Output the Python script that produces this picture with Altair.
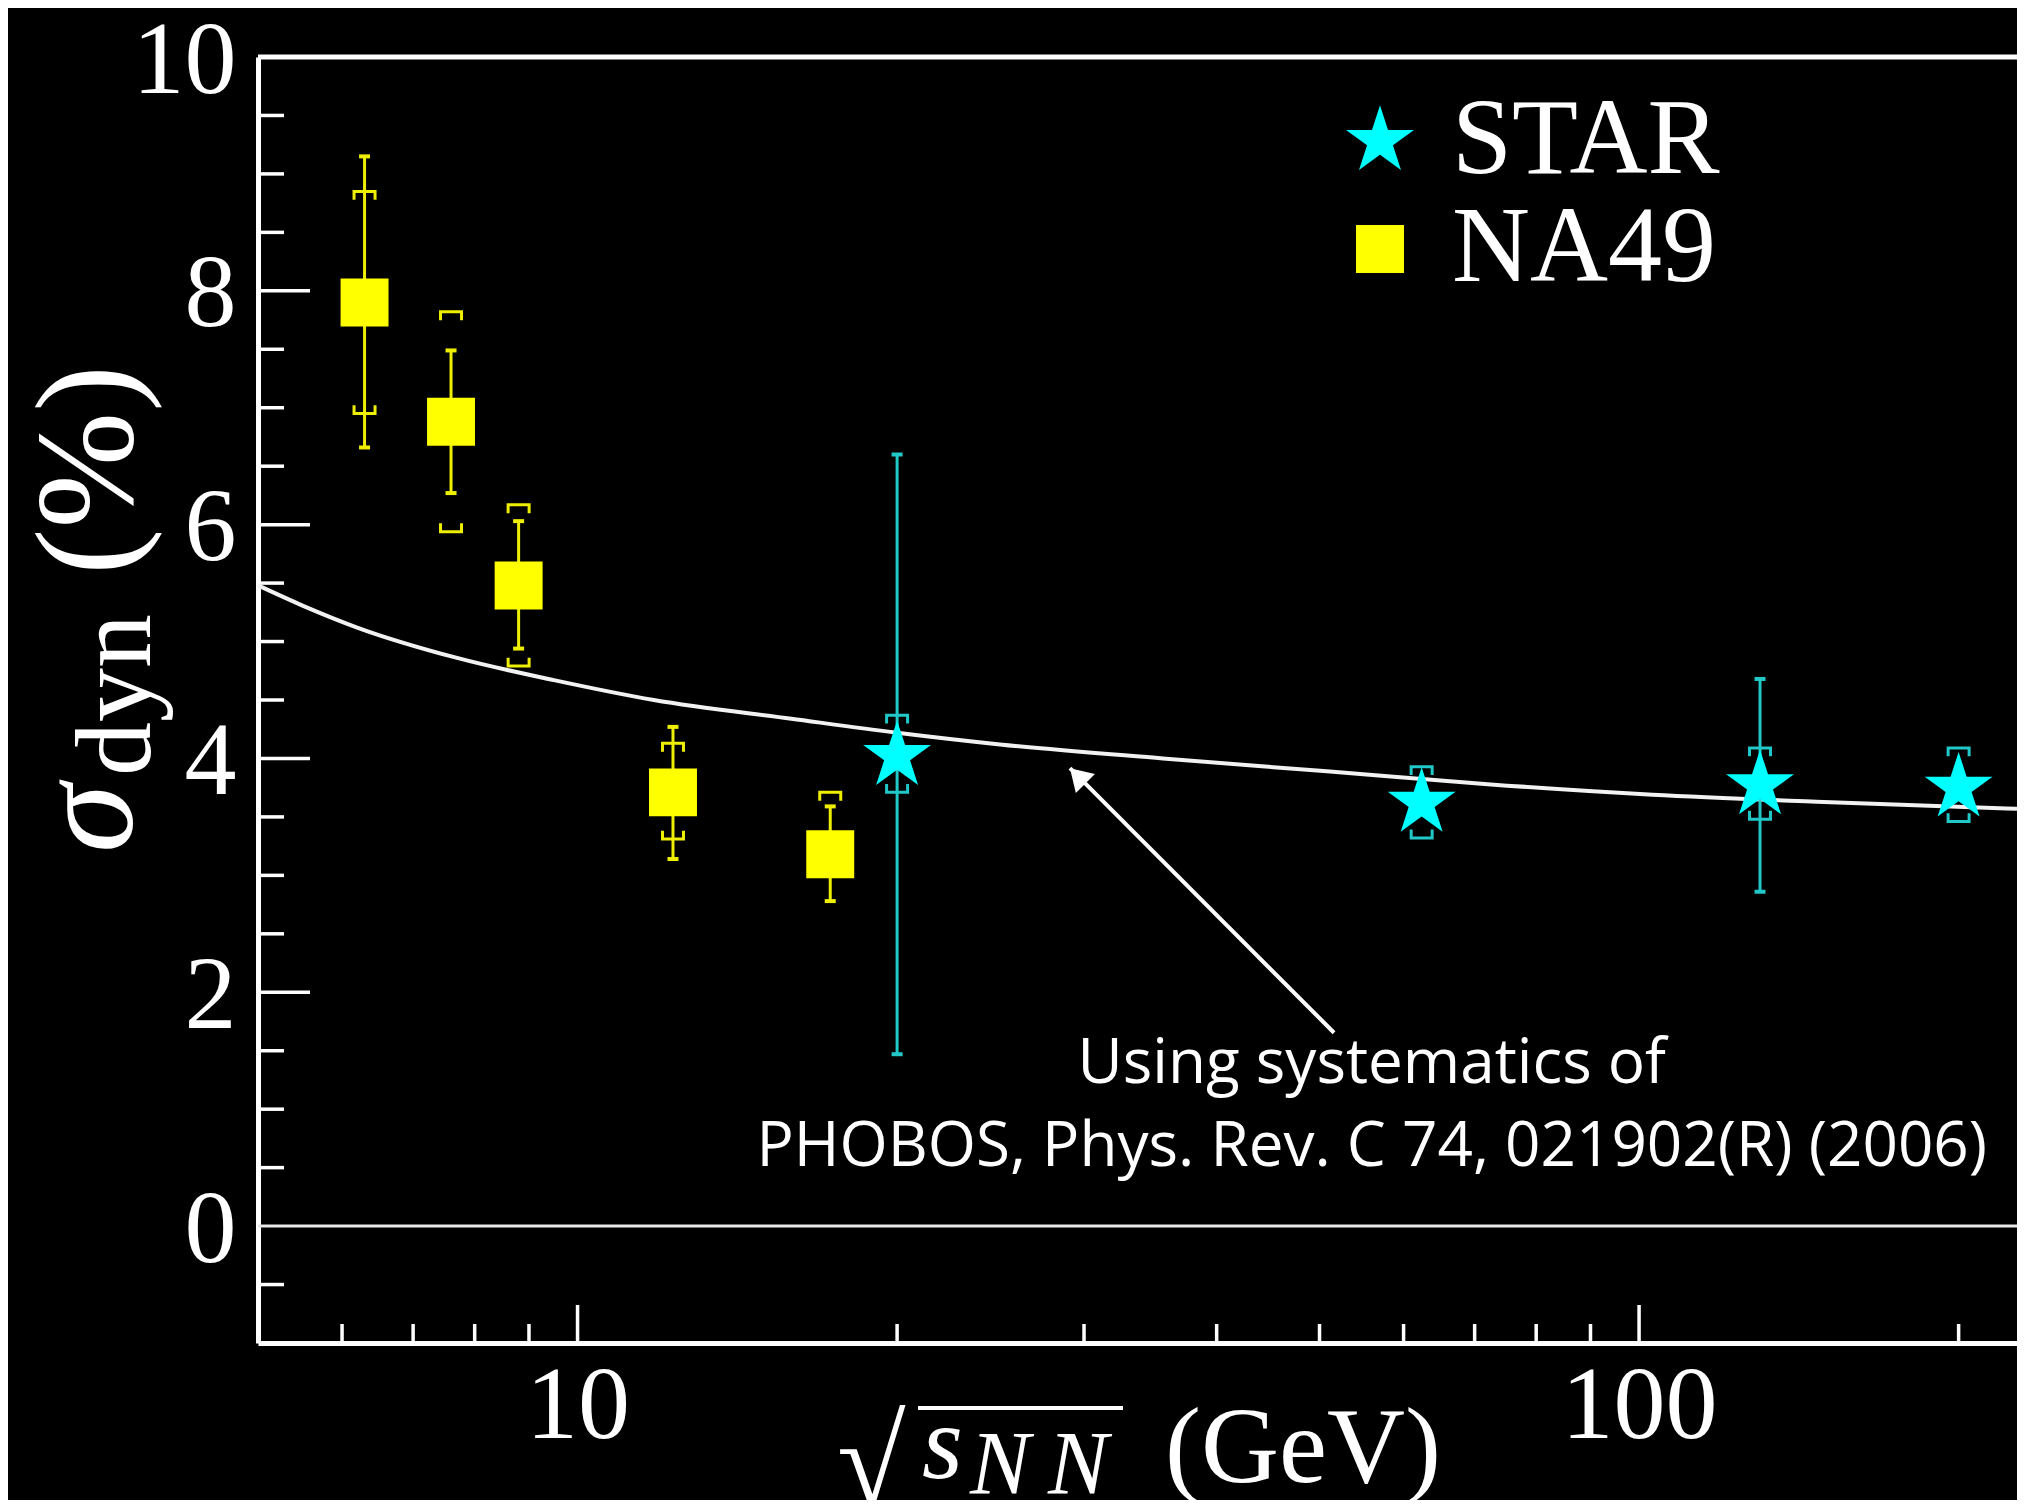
import altair as alt
import pandas as pd

# ---------------- data ----------------
series_names = ["STAR", "NA49"]

na49_x = [6.3, 7.6, 8.8, 12.3, 17.3]
na49_y = [7.90, 6.88, 5.48, 3.71, 3.18]
na49_stat_lo = [6.66, 6.27, 4.94, 3.14, 2.78]
na49_stat_hi = [9.15, 7.49, 6.03, 4.27, 3.59]
na49_sys_lo = [6.95, 5.94, 4.79, 3.31, None]
na49_sys_hi = [8.85, 7.82, 6.17, 4.13, 3.71]

star_x = [20.0, 62.4, 130.0, 200.0]
star_y = [4.02, 3.62, 3.77, 3.75]
star_stat_lo = [1.47, None, 2.86, None]
star_stat_hi = [6.60, None, 4.68, None]
star_sys_lo = [3.71, 3.32, 3.48, 3.46]
star_sys_hi = [4.37, 3.93, 4.09, 4.09]

curve_x = [5.0, 5.5, 6.2, 7.7, 9.5, 11.8, 15.9, 20, 25, 35.6, 50.8, 72, 103, 147, 227]
curve_y = [5.48, 5.31, 5.12, 4.86, 4.67, 4.50, 4.34, 4.22, 4.12, 4.00, 3.89, 3.78, 3.69, 3.63, 3.57]

arrow_x = [51.6, 29.1]
arrow_y = [1.654, 3.917]

note_lines = ["Using systematics of", "PHOBOS, Phys. Rev. C 74, 021902(R) (2006)"]
note_x = [56.0, 56.0]
note_y = [1.22, 0.51]

y_labels = [0, 2, 4, 6, 8, 10]
x_labels = [10, 100]
y_minor = [-0.5, 0.5, 1, 1.5, 2.5, 3, 3.5, 4.5, 5, 5.5, 6.5, 7, 7.5, 8.5, 9, 9.5]
y_major = [2, 4, 6, 8]
x_minor = [6, 7, 8, 9, 20, 30, 40, 50, 60, 70, 80, 90, 200]
x_major = [10, 100]

# ---------------- styling ----------------
W, H = 1759, 1286
SERIF = "Liberation Serif"
STAR_PATH = ("M0,-1L0.2245,-0.309L0.951,-0.309L0.3633,0.118L0.5878,0.809L0,0.382"
             "L-0.5878,0.809L-0.3633,0.118L-0.951,-0.309L-0.2245,-0.309Z")
TOP_BRACKET = "M-1,0.8L-1,0L1,0L1,0.8"
BOT_BRACKET = "M-1,-0.8L-1,0L1,0L1,-0.8"
HEAD_PATH = "M0,0L-0.62,1L0.62,1Z"
BAR_COLOR = {"STAR": "#22C8C8", "NA49": "#EEEE00"}

XS = alt.Scale(type="log", domain=[5, 227], nice=False)
YS = alt.Scale(domain=[-1, 10], nice=False, zero=False)
XAX = alt.Axis(values=x_labels, format="d", title=None, grid=False, ticks=False, tickSize=0,
               domainColor="white", domainWidth=5, labelColor="white", labelFont=SERIF,
               labelFontSize=104, labelPadding=12, labelFlush=False, labelOverlap=False,
               labelLimit=600)
YAX = alt.Axis(values=y_labels, format="d", title=None, grid=False, ticks=False, tickSize=0,
               domainColor="white", domainWidth=5, labelColor="white", labelFont=SERIF,
               labelFontSize=104, labelPadding=22, labelOffset=4, labelFlush=False,
               labelOverlap=False, labelLimit=600)

# ---------------- tables ----------------
pts = pd.DataFrame({
    "series": ["NA49"] * len(na49_x) + ["STAR"] * len(star_x),
    "x": na49_x + star_x,
    "y": na49_y + star_y,
})

stat_rows, cap_rows, sys_rows = [], [], []
for name, xs, lo, hi, slo, shi in [
    ("NA49", na49_x, na49_stat_lo, na49_stat_hi, na49_sys_lo, na49_sys_hi),
    ("STAR", star_x, star_stat_lo, star_stat_hi, star_sys_lo, star_sys_hi),
]:
    for i, xv in enumerate(xs):
        if lo[i] is not None and hi[i] is not None:
            stat_rows.append({"x": xv, "lo": lo[i], "hi": hi[i], "c": BAR_COLOR[name]})
            cap_rows.append({"x": xv, "v": lo[i], "c": BAR_COLOR[name]})
            cap_rows.append({"x": xv, "v": hi[i], "c": BAR_COLOR[name]})
        if slo[i] is not None:
            sys_rows.append({"x": xv, "v": slo[i], "side": "low", "c": BAR_COLOR[name]})
        if shi[i] is not None:
            sys_rows.append({"x": xv, "v": shi[i], "side": "high", "c": BAR_COLOR[name]})
stat_df = pd.DataFrame(stat_rows)
cap_df = pd.DataFrame(cap_rows)
sys_df = pd.DataFrame(sys_rows)
curve_df = pd.DataFrame({"x": curve_x, "y": curve_y})
arrow_df = pd.DataFrame({"x": arrow_x, "y": arrow_y})
head_df = pd.DataFrame({"x": [arrow_x[-1]], "y": [arrow_y[-1]]})
note_df = pd.DataFrame({"x": note_x, "y": note_y, "t": note_lines})

X = lambda f="x": alt.X(f"{f}:Q", scale=XS, axis=XAX)
Y = lambda f="y": alt.Y(f"{f}:Q", scale=YS, axis=YAX)
one = alt.Data(values=[{}])

layers = []

# frame: top line and zero line
layers.append(alt.Chart(one).mark_rule(color="white", strokeWidth=5).encode(
    y=alt.value(0), x=alt.value(0), x2=alt.value(W)))
layers.append(alt.Chart(one).mark_rule(color="#e8e8e8", strokeWidth=3).encode(
    y=alt.Y(datum=0, scale=YS, axis=YAX)))

# inward ticks
layers.append(alt.Chart(pd.DataFrame({"v": y_minor})).mark_rule(color="white", strokeWidth=3.5).encode(
    y=Y("v"), x=alt.value(0), x2=alt.value(26)))
layers.append(alt.Chart(pd.DataFrame({"v": y_major})).mark_rule(color="white", strokeWidth=3.5).encode(
    y=Y("v"), x=alt.value(0), x2=alt.value(52)))
layers.append(alt.Chart(pd.DataFrame({"v": x_minor})).mark_rule(color="white", strokeWidth=3.5).encode(
    x=X("v"), y=alt.value(H), y2=alt.value(H - 19)))
layers.append(alt.Chart(pd.DataFrame({"v": x_major})).mark_rule(color="white", strokeWidth=3.5).encode(
    x=X("v"), y=alt.value(H), y2=alt.value(H - 38)))

# curve
layers.append(alt.Chart(curve_df).mark_line(color="#f2f2f2", strokeWidth=4, interpolate="monotone").encode(
    x=X(), y=Y()))

# statistical error bars + caps
layers.append(alt.Chart(stat_df).mark_rule(strokeWidth=3).encode(
    x=X(), y=Y("lo"), y2="hi:Q", color=alt.Color("c:N", scale=None)))
layers.append(alt.Chart(cap_df).mark_tick(orient="horizontal", size=11, thickness=4, opacity=1).encode(
    x=X(), y=Y("v"), color=alt.Color("c:N", scale=None)))

# systematic brackets
layers.append(alt.Chart(sys_df).transform_filter("datum.side == 'high'").mark_point(
    shape=TOP_BRACKET, filled=False, size=441, strokeWidth=3, opacity=1).encode(
    x=X(), y=Y("v"), color=alt.Color("c:N", scale=None)))
layers.append(alt.Chart(sys_df).transform_filter("datum.side == 'low'").mark_point(
    shape=BOT_BRACKET, filled=False, size=441, strokeWidth=3, opacity=1).encode(
    x=X(), y=Y("v"), color=alt.Color("c:N", scale=None)))

# data points with legend
leg = alt.Legend(orient="none", legendX=1068, legendY=30, title=None, labelFont=SERIF,
                 labelFontSize=108, labelColor="white", labelOffset=18, rowPadding=0,
                 padding=0, labelLimit=1000, symbolStrokeWidth=0, symbolOpacity=1)
layers.append(alt.Chart(pts).mark_point(filled=True, opacity=1, strokeWidth=0).encode(
    x=X(), y=Y(),
    color=alt.Color("series:N", scale=alt.Scale(domain=series_names, range=["#00FFFF", "#FFFF00"]), legend=leg),
    shape=alt.Shape("series:N", scale=alt.Scale(domain=series_names, range=[STAR_PATH, "square"]), legend=leg),
    size=alt.Size("series:N", scale=alt.Scale(domain=series_names, range=[5100, 2300]), legend=leg),
))

# arrow + annotation
layers.append(alt.Chart(arrow_df).mark_line(color="white", strokeWidth=4).encode(x=X(), y=Y()))
layers.append(alt.Chart(head_df).mark_point(shape=HEAD_PATH, filled=True, size=1900, angle=315,
                                            color="white", opacity=1, strokeWidth=0).encode(x=X(), y=Y()))
layers.append(alt.Chart(note_df).mark_text(font="Open Sans", fontSize=62, color="white",
                                           align="center", baseline="alphabetic").encode(
    x=X(), y=Y(), text="t:N"))


def label(text, x, y, size, angle=0, italic=False, font=SERIF):
    return alt.Chart(one).mark_text(text=text, fontSize=size, font=font,
                                    fontStyle="italic" if italic else "normal",
                                    angle=angle, align="left", baseline="alphabetic",
                                    color="white").encode(x=alt.value(x), y=alt.value(y))


# y title: sigma_dyn (%)
layers.append(label("σ", -126, 796, 140, angle=270, italic=True))
layers.append(label("dyn", -108, 719, 108, angle=270))
layers.append(label("(%)", -126, 518, 140, angle=270))

# x title: sqrt(s_NN) (GeV)
layers.append(label("√", 579, 1447, 125))
layers.append(alt.Chart(one).mark_rule(color="white", strokeWidth=4).encode(
    x=alt.value(660), x2=alt.value(865), y=alt.value(1351)))
layers.append(label("s", 664, 1421, 105, italic=True))
layers.append(label("N\u2009N", 712, 1437, 90, italic=True))
layers.append(label("(GeV)", 907, 1425, 108))

chart = alt.layer(*layers).properties(
    width=W, height=H, background="black",
    padding={"left": 250, "top": 49, "right": 0, "bottom": 157},
    autosize=alt.AutoSizeParams(type="none"),
).configure_view(stroke=None)

chart.save("out.html", embed_options={"renderer": "svg", "actions": False})
